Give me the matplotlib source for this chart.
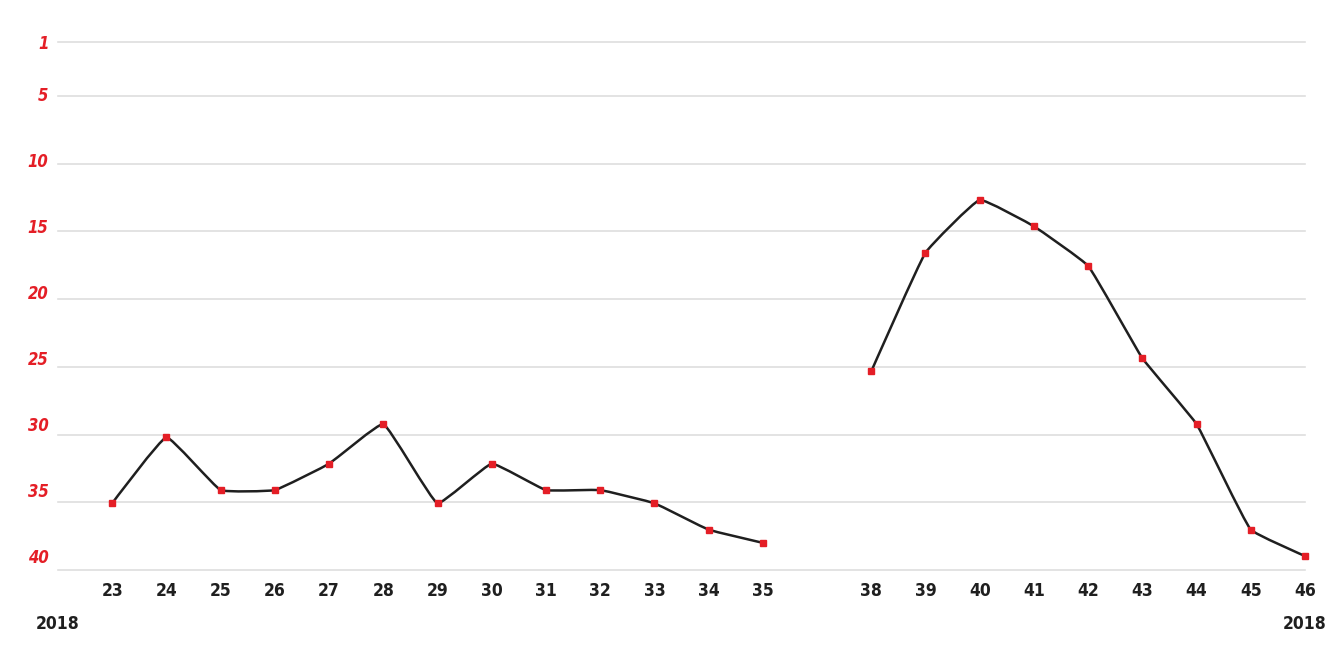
#!/usr/bin/env python3

import numpy as np
import matplotlib.pyplot as plt
from matplotlib.path import Path
from matplotlib.patches import PathPatch

# Data: weekly chart position (rank), 2018; one empty slot between week 35 and 38
weeks = ['23', '24', '25', '26', '27', '28', '29', '30', '31', '32', '33', '34', '35',
         '', '38', '39', '40', '41', '42', '43', '44', '45', '46']
ranks = [36, 31, 35, 35, 33, 30, 36, 33, 35, 35, 36, 38, 39,
         np.nan, 26, 17, 13, 15, 18, 25, 30, 38, 40]
rank_ticks = [1, 5, 10, 15, 20, 25, 30, 35, 40]
year = '2018'

red = '#e41e26'
dark = '#1f1f1f'
grid_color = '#dedede'

plt.rcParams['font.family'] = ['DejaVu Sans']
plt.rcParams['font.stretch'] = 'condensed'


def spline_path(xs, ys, ax, tension=0.1):
    # light cardinal-style smoothing, control points worked out in screen space
    pts = ax.transData.transform(np.column_stack([xs, ys]))
    inv = ax.transData.inverted()
    n = len(pts)
    cp_prev = pts.copy()
    cp_next = pts.copy()
    for i in range(1, n - 1):
        p0, p1, p2 = pts[i - 1], pts[i], pts[i + 1]
        d01 = np.hypot(*(p1 - p0))
        d12 = np.hypot(*(p2 - p1))
        s01 = d01 / (d01 + d12)
        s12 = d12 / (d01 + d12)
        cp_prev[i] = p1 - tension * s01 * (p2 - p0)
        cp_next[i] = p1 + tension * s12 * (p2 - p0)
    verts = [pts[0]]
    codes = [Path.MOVETO]
    for i in range(1, n):
        verts += [cp_next[i - 1], cp_prev[i], pts[i]]
        codes += [Path.CURVE4] * 3
    return Path(inv.transform(np.array(verts)), codes)


fig = plt.figure(figsize=(13.33, 6.66), dpi=100)
ax = fig.add_axes([58 / 1333, 1 - 570 / 666, (1305 - 58) / 1333, (570 - 41.7) / 666])

# gridlines live on their own scale (they sit slightly off the labels in the original)
ax_grid = ax.twinx()
ax_grid.set_ylim(40, 1)
ax_grid.set_yticks(rank_ticks)
ax_grid.yaxis.grid(True, color=grid_color, linewidth=1.2)
ax_grid.tick_params(axis='y', length=0, labelright=False)
for gl in ax_grid.get_ygridlines():
    gl.set_clip_on(False)
ax.set_zorder(ax_grid.get_zorder() + 1)
ax.patch.set_visible(False)

x = np.arange(len(weeks))
y = np.array(ranks, dtype=float)

ax.set_xlim(-1, len(weeks) - 1)
ax.set_ylim(41.06, 1)

# draw each continuous run as a lightly smoothed line
ok = ~np.isnan(y)
start = None
for i in range(len(y) + 1):
    if i < len(y) and ok[i]:
        if start is None:
            start = i
    elif start is not None:
        seg_x = x[start:i].astype(float)
        seg_y = y[start:i]
        ax.add_patch(PathPatch(spline_path(seg_x, seg_y, ax), facecolor='none',
                               edgecolor=dark, linewidth=1.8, capstyle='round',
                               joinstyle='round', clip_on=False))
        start = None

ax.plot(x, y, linestyle='none', marker='s', markersize=5, color=red,
        clip_on=False, zorder=5)

ax.set_xticks(x)
ax.set_xticklabels(weeks, fontsize=12.5, fontweight='bold', color=dark)
ax.set_yticks(rank_ticks)
ax.set_yticklabels([str(t) for t in rank_ticks], fontsize=12, fontweight='bold',
                   fontstyle='italic', color=red)
ax.tick_params(axis='x', length=0, pad=9)
ax.tick_params(axis='y', length=0, pad=7)

for a in (ax, ax_grid):
    for s in a.spines.values():
        s.set_visible(False)

ax.annotate(year, xy=(0, 0), xycoords='axes fraction', xytext=(0, -39),
            textcoords='offset points', ha='center', va='center',
            fontsize=12.5, fontweight='bold', color=dark)
ax.annotate(year, xy=(1, 0), xycoords='axes fraction', xytext=(0, -39),
            textcoords='offset points', ha='center', va='center',
            fontsize=12.5, fontweight='bold', color=dark)

plt.savefig('out.png', dpi=100)
